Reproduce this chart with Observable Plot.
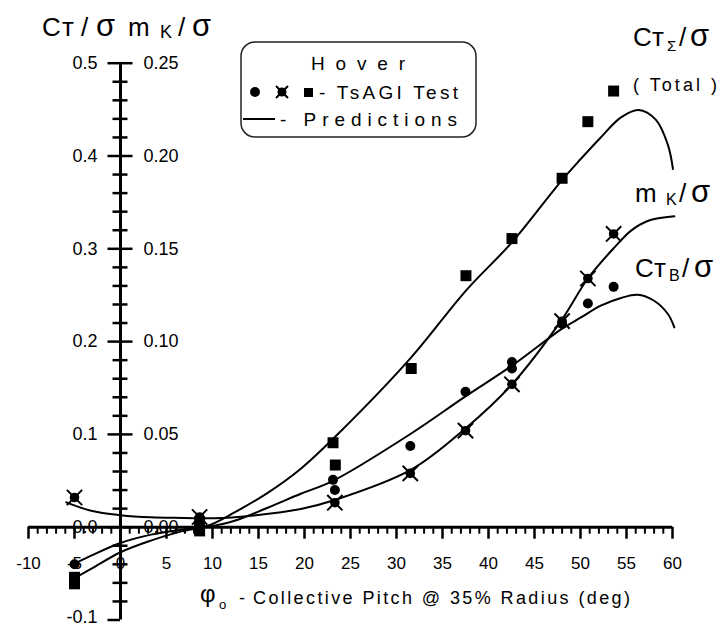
<!DOCTYPE html>
<html><head><meta charset="utf-8">
<script src="https://cdn.jsdelivr.net/npm/d3@7"></script>
<script src="https://cdn.jsdelivr.net/npm/@observablehq/plot@0.6"></script>
<style>
body{margin:0;background:#fff}
#chart{width:727px;height:627px}
</style>
</head><body><div id="chart"></div>
<script>
// ---- axis ticks & labels ----
const xTicks = [-10, -5, 0, 5, 10, 15, 20, 25, 30, 35, 40, 45, 50, 55, 60];
const xTickLabels = ["-10", "-5", "0", "5", "10", "15", "20", "25", "30", "35", "40", "45", "50", "55", "60"];
const yLeftTicks = [-0.1, 0, 0.1, 0.2, 0.3, 0.4, 0.5];
const yLeftLabels = ["-0.1", "0.0", "0.1", "0.2", "0.3", "0.4", "0.5"];
const yRightTicks = [0, 0.05, 0.10, 0.15, 0.20, 0.25];
const yRightLabels = ["0.00", "0.05", "0.10", "0.15", "0.20", "0.25"];

// ---- TsAGI test points (collective pitch, deg) ----
const testTotalX = [-5.0, -5.0, 8.6, 8.6, 23.1, 23.35, 31.6, 37.55, 42.55, 48.0, 50.8, 53.6];
const testTotalY = [-0.054, -0.061, -0.004, 0.006, 0.091, 0.067, 0.171, 0.271, 0.311, 0.376, 0.437, 0.470];
const testBladeX = [-5.0, 8.6, 23.1, 23.3, 31.5, 37.5, 42.55, 42.55, 48.0, 50.8, 53.6];
const testBladeY = [-0.040, 0.002, 0.051, 0.040, 0.0875, 0.146, 0.178, 0.171, 0.219, 0.241, 0.259];
const testMkX = [-5.0, 8.6, 23.3, 31.5, 37.5, 42.55, 48.0, 50.8, 53.6];
const testMkY = [0.016, 0.0055, 0.0132, 0.029, 0.052, 0.077, 0.111, 0.134, 0.158];

// ---- predictions ----
const predTotalX = [-5.4, -3.2, 0, 3.3, 6.6, 9.5, 12.4, 16, 19.6, 24, 31.6, 37.55, 42.55, 47.9, 50.05, 52.2, 54.4, 56.3, 58.2, 59.5, 60.05];
const predTotalY = [-0.057, -0.045, -0.027, -0.0145, -0.0045, 0.0016, 0.016, 0.037, 0.063, 0.104, 0.183, 0.255, 0.307, 0.373, 0.397, 0.42, 0.4416, 0.4496, 0.439, 0.412, 0.386];
const predBladeX = [-5.4, -3.2, 0, 3.3, 6.6, 9.5, 12.4, 16, 19.6, 23.1, 31.6, 37.5, 42.55, 48.0, 50.05, 52.2, 54.4, 56.2, 58.0, 59.5, 60.2];
const predBladeY = [-0.0415, -0.0307, -0.017, -0.008, -0.0027, 0.0005, 0.007, 0.021, 0.036, 0.050, 0.101, 0.141, 0.174, 0.214, 0.226, 0.2387, 0.247, 0.2505, 0.244, 0.2297, 0.2153];
const predMkX = [-5.9, -3.2, 0, 3.3, 6.9, 10.2, 14.2, 19.6, 23.2, 31.6, 37.4, 42.55, 47.9, 50.8, 53.7, 55.5, 57.3, 60.2];
const predMkY = [0.0134, 0.0089, 0.0065, 0.0053, 0.005, 0.0048, 0.0062, 0.0098, 0.0145, 0.031, 0.0528, 0.077, 0.1113, 0.134, 0.1508, 0.1598, 0.165, 0.1675];

// mK/σ axis is drawn at twice the scale of CT/σ (0.25 ↔ 0.5)
const MK_FACTOR = 2;

const zip = (xs, ys) => xs.map((x, i) => ({x, y: ys[i]}));
const testTotal = zip(testTotalX, testTotalY);
const testBlade = zip(testBladeX, testBladeY);
const testMk = zip(testMkX, testMkY);
const predTotal = zip(predTotalX, predTotalY);
const predBlade = zip(predBladeX, predBladeY);
const predMk = zip(predMkX, predMkY);

const xMinor = d3.range(-10, 61, 1).filter(v => v % 5 !== 0);
const yMinor = d3.range(-0.1, 0.5001, 0.02).map(v => +v.toFixed(2)).filter(v => Math.abs(v * 10 - Math.round(v * 10)) > 1e-6);

const FONT = "'Liberation Sans', Arial, Helvetica, sans-serif";

// pixel-length helpers in data units (x: 9.2 px/unit, y: 928 px/unit)
const XPX = 70 / 644, YPX = 0.6 / 556.8;

const leftPos = yLeftTicks.map((v, i) => ({v, label: yLeftLabels[i]}));

const plot = Plot.plot({
  width: 727, height: 627,
  marginLeft: 28, marginRight: 55, marginTop: 62.7, marginBottom: 7.5,
  x: {domain: [-10, 60], axis: null},
  y: {domain: [-0.1, 0.5], axis: null},
  style: {fontFamily: FONT, background: "#fff", color: "#000"},
  marks: [
    // axes
    Plot.ruleY([0], {x1: -10, x2: 60, stroke: "#000", strokeWidth: 3}),
    Plot.ruleX([0], {y1: -0.1, y2: 0.5, stroke: "#000", strokeWidth: 3}),
    Plot.ruleX(xMinor, {x: d => d, y1: 0, y2: -7 * YPX, stroke: "#000", strokeWidth: 2}),
    Plot.ruleX(xTicks, {x: d => d, y1: 0, y2: -12 * YPX, stroke: "#000", strokeWidth: 2.5}),
    Plot.ruleY(yMinor, {y: d => d, x1: -7.5 * XPX, x2: 7.5 * XPX, stroke: "#000", strokeWidth: 2.5}),
    Plot.ruleY(yLeftTicks, {y: d => d, x1: -12.5 * XPX, x2: d => d < 0 ? 0 : 12.5 * XPX, stroke: "#000", strokeWidth: 2.5}),
    Plot.text(leftPos.filter(d => d.v >= 0), {x: 0, y: "v", text: "label", dx: -23, textAnchor: "end", fontSize: 18, letterSpacing: 1}),
    Plot.text(leftPos.filter(d => d.v < 0), {x: 0, y: "v", text: "label", dx: -23, dy: -3, textAnchor: "end", fontSize: 18, letterSpacing: 1}),
    Plot.text(yRightTicks, {x: 0, y: d => d * MK_FACTOR, text: (d, i) => yRightLabels[i], dx: 23, textAnchor: "start", fontSize: 18, letterSpacing: 1}),
    Plot.text(xTicks, {x: d => d, y: 0, text: (d, i) => xTickLabels[i], dy: 36, fontSize: 17, letterSpacing: 0.5}),
    // predictions
    Plot.line(predTotal, {x: "x", y: "y", curve: "catmull-rom", stroke: "#000", strokeWidth: 2}),
    Plot.line(predBlade, {x: "x", y: "y", curve: "catmull-rom", stroke: "#000", strokeWidth: 2}),
    Plot.line(predMk, {x: "x", y: d => d.y * MK_FACTOR, curve: "catmull-rom", stroke: "#000", strokeWidth: 2}),
    // test points
    Plot.dot(testTotal, {x: "x", y: "y", symbol: "square", r: 6.2, fill: "#000"}),
    Plot.dot(testBlade, {x: "x", y: "y", symbol: "circle", r: 5, fill: "#000"}),
    Plot.dot(testMk, {x: "x", y: d => d.y * MK_FACTOR, symbol: "circle", r: 4.8, fill: "#000"}),
    Plot.dot(testMk, {x: "x", y: d => d.y * MK_FACTOR, symbol: "times", r: 7, stroke: "#000", strokeWidth: 2})
  ]
});
document.getElementById("chart").appendChild(plot);

// ---- annotations ----
const svg = d3.select(plot);
const g = svg.append("g").attr("font-family", FONT).attr("fill", "#000").attr("text-anchor", "start");
function label(parts) {
  const t = g.append("text").attr("text-anchor", "start");
  parts.forEach(p => {
    const s = t.append("tspan").attr("x", p.x).attr("y", p.y).attr("font-size", p.size).text(p.t);
    if (p.len) s.attr("textLength", p.len).attr("lengthAdjust", "spacing");
  });
  return t;
}
// top title
label([
  {t: "C", x: 42, y: 36, size: 26},
  {t: "т", x: 62, y: 36, size: 26},
  {t: "/", x: 81, y: 36, size: 26},
  {t: "σ", x: 96, y: 36, size: 31},
  {t: "m", x: 128, y: 36, size: 26},
  {t: "K", x: 160, y: 38, size: 18},
  {t: "/", x: 178, y: 36, size: 26},
  {t: "σ", x: 192, y: 36, size: 31}
]);
// series labels
label([
  {t: "C", x: 633, y: 46, size: 26},
  {t: "т", x: 652, y: 46, size: 26},
  {t: "Σ", x: 667, y: 51, size: 15},
  {t: "/", x: 679, y: 46, size: 26},
  {t: "σ", x: 690, y: 46, size: 31}
]);
label([{t: "( Total )", x: 633, y: 91, size: 18, len: 84}]);
label([
  {t: "m", x: 635, y: 202, size: 26},
  {t: "K", x: 666, y: 205, size: 16},
  {t: "/", x: 679, y: 202, size: 26},
  {t: "σ", x: 691, y: 202, size: 31}
]);
label([
  {t: "C", x: 635, y: 277, size: 26},
  {t: "т", x: 654, y: 277, size: 26},
  {t: "B", x: 669, y: 281, size: 16},
  {t: "/", x: 682, y: 277, size: 26},
  {t: "σ", x: 694, y: 277, size: 31}
]);
// x axis title
label([
  {t: "φ", x: 200, y: 602, size: 24},
  {t: "o", x: 219, y: 609, size: 13},
  {t: "-", x: 239, y: 604, size: 18},
  {t: "Collective Pitch @ 35% Radius (deg)", x: 253, y: 604, size: 18, len: 377}
]);
// legend
g.append("rect").attr("x", 241).attr("y", 42).attr("width", 235).attr("height", 95)
  .attr("rx", 14).attr("fill", "none").attr("stroke", "#222").attr("stroke-width", 1.5);
label([{t: "H o v e r", x: 311, y: 70, size: 19, len: 94}]);
g.append("circle").attr("cx", 255).attr("cy", 92).attr("r", 5);
g.append("circle").attr("cx", 282).attr("cy", 92).attr("r", 4.5);
g.append("path").attr("d", "M276,86L288,98M288,86L276,98").attr("stroke", "#000").attr("stroke-width", 2);
g.append("rect").attr("x", 304).attr("y", 88).attr("width", 9).attr("height", 9);
label([{t: "- TsAGI Test", x: 319, y: 99, size: 19, len: 139}]);
g.append("line").attr("x1", 243).attr("x2", 275).attr("y1", 119).attr("y2", 119).attr("stroke", "#000").attr("stroke-width", 2);
label([{t: "- Predictions", x: 280, y: 126, size: 19, len: 177}]);
</script></body></html>
